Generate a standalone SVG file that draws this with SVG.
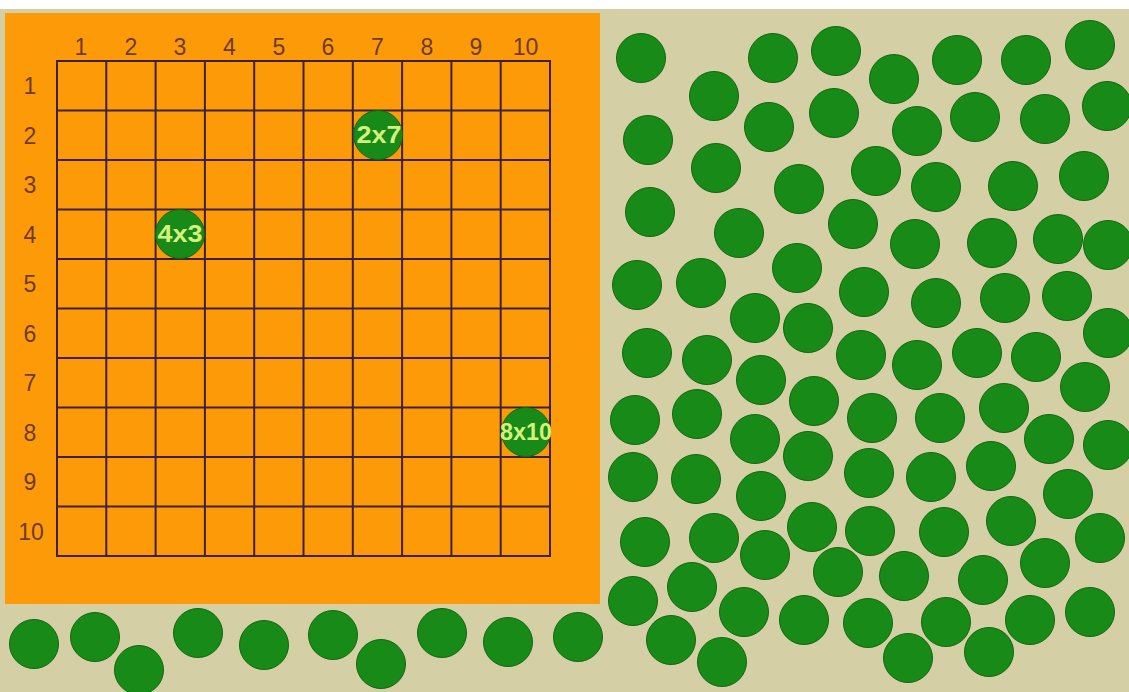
<svg xmlns="http://www.w3.org/2000/svg" width="1129" height="692" viewBox="0 0 1129 692">
<style>
.t{fill:#188a17;stroke:#11680f;stroke-width:1}
.g{stroke:#3b2040;stroke-width:2;fill:none}
.n{font-family:"Liberation Sans",Arial,sans-serif;font-size:23px;fill:#6e3a2e;text-anchor:middle}
.l{font-family:"Liberation Sans",Arial,sans-serif;font-size:24px;font-weight:bold;fill:#d6f07c;text-anchor:middle}
</style>
<defs><circle id="c" r="24.5" class="t"/></defs>
<rect x="0" y="0" width="1129" height="692" fill="#d4cfa4"/>
<rect x="0" y="0" width="1129" height="9" fill="#ffffff"/>
<rect x="5" y="13" width="595" height="591" fill="#fd9a08"/>
<g id="grid" class="g">
<rect x="57" y="61" width="493" height="495"/>
<path d="M106.3 61V556M155.6 61V556M204.9 61V556M254.2 61V556M303.5 61V556M352.8 61V556M402.1 61V556M451.4 61V556M500.7 61V556"/>
<path d="M57 110.5H550M57 160H550M57 209.5H550M57 259H550M57 308.5H550M57 358H550M57 407.5H550M57 457H550M57 506.5H550"/>
</g>
<g id="col-labels" class="n">
<text x="81" y="55">1</text><text x="131" y="55">2</text><text x="180" y="55">3</text><text x="229.5" y="55">4</text><text x="279" y="55">5</text>
<text x="328" y="55">6</text><text x="377.5" y="55">7</text><text x="427" y="55">8</text><text x="476" y="55">9</text><text x="525.5" y="55">10</text>
</g>
<g id="row-labels" class="n">
<text x="30" y="94">1</text><text x="30" y="143.5">2</text><text x="30" y="193">3</text><text x="30" y="242.5">4</text><text x="30" y="292">5</text>
<text x="30" y="341.5">6</text><text x="30" y="391">7</text><text x="30" y="440.5">8</text><text x="30" y="490">9</text><text x="31" y="539.5">10</text>
</g>
<g id="marked">
<g id="m2x7"><use href="#c" x="378" y="135"/><text class="l" x="379" y="143" textLength="45" lengthAdjust="spacingAndGlyphs">2x7</text></g>
<g id="m4x3"><use href="#c" x="180" y="234"/><text class="l" x="180" y="242" textLength="45" lengthAdjust="spacingAndGlyphs">4x3</text></g>
<g id="m8x10"><use href="#c" x="526" y="432"/><text class="l" x="526" y="440" textLength="52" lengthAdjust="spacingAndGlyphs">8x10</text></g>
</g>
<g id="trees">
<use href="#c" x="34" y="644"/><use href="#c" x="95" y="637"/><use href="#c" x="139" y="670"/><use href="#c" x="198" y="633"/><use href="#c" x="264" y="645"/>
<use href="#c" x="333" y="635"/><use href="#c" x="381" y="664"/><use href="#c" x="442" y="633"/><use href="#c" x="508" y="642"/><use href="#c" x="578" y="637"/>
<use href="#c" x="641" y="58"/><use href="#c" x="773" y="58"/><use href="#c" x="836" y="51"/><use href="#c" x="894" y="79"/><use href="#c" x="957" y="60"/>
<use href="#c" x="1026" y="60"/><use href="#c" x="1090" y="45"/><use href="#c" x="714" y="96"/><use href="#c" x="769" y="127"/><use href="#c" x="834" y="113"/>
<use href="#c" x="917" y="131"/><use href="#c" x="975" y="117"/><use href="#c" x="1045" y="119"/><use href="#c" x="1107" y="106"/><use href="#c" x="648" y="140"/>
<use href="#c" x="716" y="168"/><use href="#c" x="799" y="189"/><use href="#c" x="876" y="171"/><use href="#c" x="936" y="187"/><use href="#c" x="1013" y="186"/>
<use href="#c" x="1084" y="176"/><use href="#c" x="650" y="212"/><use href="#c" x="739" y="233"/><use href="#c" x="853" y="224"/><use href="#c" x="915" y="244"/>
<use href="#c" x="992" y="243"/><use href="#c" x="1058" y="239"/><use href="#c" x="1108" y="245"/><use href="#c" x="637" y="285"/><use href="#c" x="701" y="283"/>
<use href="#c" x="797" y="268"/><use href="#c" x="864" y="292"/><use href="#c" x="936" y="303"/><use href="#c" x="1005" y="298"/><use href="#c" x="1067" y="296"/>
<use href="#c" x="1108" y="333"/><use href="#c" x="755" y="318"/><use href="#c" x="808" y="328"/>
<use href="#c" x="647" y="353"/><use href="#c" x="707" y="360"/><use href="#c" x="861" y="355"/><use href="#c" x="917" y="365"/><use href="#c" x="977" y="353"/>
<use href="#c" x="1036" y="357"/><use href="#c" x="761" y="380"/><use href="#c" x="1085" y="387"/><use href="#c" x="635" y="420"/><use href="#c" x="697" y="414"/>
<use href="#c" x="814" y="401"/><use href="#c" x="872" y="418"/><use href="#c" x="940" y="418"/><use href="#c" x="1004" y="408"/><use href="#c" x="1049" y="439"/>
<use href="#c" x="1108" y="445"/><use href="#c" x="755" y="439"/><use href="#c" x="808" y="456"/><use href="#c" x="633" y="477"/><use href="#c" x="696" y="479"/>
<use href="#c" x="761" y="496"/><use href="#c" x="869" y="473"/><use href="#c" x="931" y="477"/><use href="#c" x="991" y="466"/><use href="#c" x="1068" y="494"/>
<use href="#c" x="645" y="542"/><use href="#c" x="714" y="538"/><use href="#c" x="812" y="527"/><use href="#c" x="870" y="531"/><use href="#c" x="944" y="532"/>
<use href="#c" x="1011" y="521"/><use href="#c" x="1100" y="538"/><use href="#c" x="765" y="555"/><use href="#c" x="838" y="572"/><use href="#c" x="904" y="576"/>
<use href="#c" x="983" y="580"/><use href="#c" x="1045" y="563"/><use href="#c" x="692" y="587"/><use href="#c" x="633" y="601"/><use href="#c" x="744" y="612"/>
<use href="#c" x="804" y="620"/><use href="#c" x="868" y="623"/><use href="#c" x="946" y="622"/><use href="#c" x="1030" y="620"/><use href="#c" x="1090" y="612"/>
<use href="#c" x="671" y="640"/><use href="#c" x="722" y="662"/><use href="#c" x="908" y="658"/><use href="#c" x="989" y="652"/>
</g>
</svg>
